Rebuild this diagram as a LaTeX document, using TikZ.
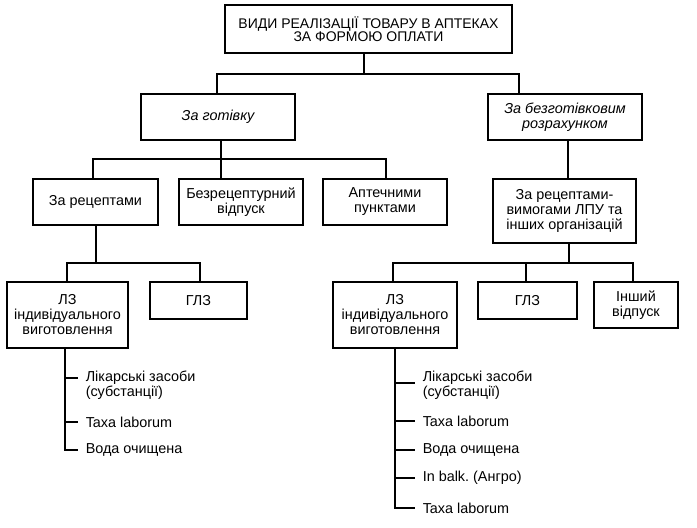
\documentclass[tikz,border=0pt]{standalone}
\usepackage{fontspec}
\setmainfont{Liberation Sans}
\frenchspacing
\begin{document}
\begin{tikzpicture}[x=1pt,y=-1pt,line width=1.5pt,
  box/.style={draw,line width=1.5pt,align=center,inner sep=0pt,
    font=\fontsize{14.4}{15}\selectfont},
  ibox/.style={box,font=\fontsize{14.4}{15}\selectfont\itshape},
  item/.style={anchor=west,align=left,inner ysep=0pt,inner xsep=7pt,
    font=\fontsize{14.4}{15}\selectfont},
  conn/.style={line width=1.5pt}]
\useasboundingbox (0,0) rectangle (697,528);

% boxes
\node[box,minimum width=287pt,minimum height=48pt,
  font=\fontsize{14}{13}\selectfont] (top) at (368.5,29)
  {ВИДИ РЕАЛІЗАЦІЇ ТОВАРУ В АПТЕКАХ\\ЗА ФОРМОЮ ОПЛАТИ};
\node[ibox,minimum width=154pt,minimum height=46pt] (cash) at (218,117) {За готівку};
\node[ibox,minimum width=154pt,minimum height=46pt] (noncash) at (565,117)
  {За безготівковим\\розрахунком};
\node[box,minimum width=125pt,minimum height=46pt] (recipe) at (95.5,202) {За рецептами};
\node[box,minimum width=124pt,minimum height=46pt] (otc) at (241,202) {Безрецептурний\\відпуск};
\node[box,minimum width=124pt,minimum height=46pt] (points) at (385,202) {Аптечними\\пунктами};
\node[box,minimum width=143pt,minimum height=64pt] (lpu) at (564.5,211)
  {За рецептами-\\вимогами ЛПУ та\\інших організацій};
\node[box,minimum width=121pt,minimum height=66pt] (lz1) at (67.5,315)
  {ЛЗ\\індивідуального\\виготовлення};
\node[box,minimum width=97pt,minimum height=37pt] (glz1) at (198.5,300.5) {ГЛЗ};
\node[box,minimum width=124pt,minimum height=66pt] (lz2) at (395,315)
  {ЛЗ\\індивідуального\\виготовлення};
\node[box,minimum width=99pt,minimum height=37pt] (glz2) at (527.5,300.5) {ГЛЗ};
\node[box,minimum width=84pt,minimum height=46pt] (other) at (636,305) {Інший\\відпуск};

% left list items
\node[item] (a1) at (78,385.5) {Лікарські засоби\\(субстанції)};
\node[item] (a2) at (78,422) {Taxa laborum};
\node[item] (a3) at (78,450) {Вода очищена};
% right list items
\node[item] (b1) at (415,385) {Лікарські засоби\\(субстанції)};
\node[item] (b2) at (415,421) {Taxa laborum};
\node[item] (b3) at (415,450) {Вода очищена};
\node[item] (b4) at (415,478) {In balk.\ (Ангро)};
\node[item] (b5) at (415,508) {Taxa laborum};

% bus coordinates
\coordinate (bt) at (364,74);
\coordinate (bL) at (217,74);
\coordinate (bR) at (519,74);
\coordinate (c0) at (221,159);
\coordinate (c1) at (93,159);
\coordinate (c3) at (386,159);
\coordinate (n0) at (568,159);
\coordinate (r0) at (96,263);
\coordinate (r1) at (67,263);
\coordinate (r2) at (200,263);
\coordinate (p0) at (569,263);
\coordinate (p1) at (393,263);
\coordinate (p2) at (526,263);
\coordinate (p3) at (633,263);
\coordinate (ta) at (65,348);
\coordinate (tb) at (395,348);

% connectors
\draw[conn] (bt |- top.south) -- (bt);
\draw[conn] (bL |- cash.north) -- (bL) -- (bR) -- (bR |- noncash.north);
\draw[conn] (c0 |- cash.south) -- (c0) -- (c0 |- otc.north);
\draw[conn] (c1 |- recipe.north) -- (c1) -- (c3) -- (c3 |- points.north);
\draw[conn] (n0 |- noncash.south) -- (n0 |- lpu.north);
\draw[conn] (r0 |- recipe.south) -- (r0);
\draw[conn] (r1 |- lz1.north) -- (r1) -- (r2) -- (r2 |- glz1.north);
\draw[conn] (p0 |- lpu.south) -- (p0);
\draw[conn] (p1 |- lz2.north) -- (p1) -- (p3) -- (p3 |- other.north);
\draw[conn] (p2) -- (p2 |- glz2.north);

\draw[conn] (ta |- lz1.south) |- (a3.west);
\draw[conn] (ta |- a1.west) ++(0,-7.5) -- ([yshift=7.5pt]a1.west);
\draw[conn] (ta |- a2.west) -- (a2.west);

\draw[conn] (tb |- lz2.south) |- (b5.west);
\draw[conn] (tb |- b1.west) ++(0,-2) -- ([yshift=2pt]b1.west);
\draw[conn] (tb |- b2.west) -- (b2.west);
\draw[conn] (tb |- b3.west) -- (b3.west);
\draw[conn] (tb |- b4.west) -- (b4.west);
\end{tikzpicture}
\end{document}
